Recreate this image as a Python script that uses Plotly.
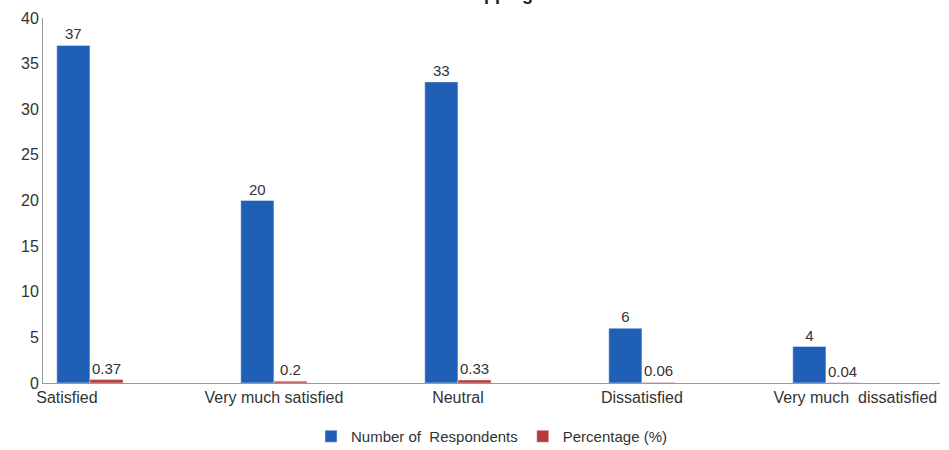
import plotly.graph_objects as go

categories = ["Satisfied", "Very much satisfied", "Neutral", "Dissatisfied", "Very much  dissatisfied"]
respondents = [37, 20, 33, 6, 4]
percentage = [0.37, 0.2, 0.33, 0.06, 0.04]
label_pos = [-0.125, 1, 2, 3.0, 4.16]
y_ticks = [0, 5, 10, 15, 20, 25, 30, 35, 40]

xs = list(range(len(categories)))
font_family = "Liberation Sans Narrow, Liberation Sans, Arial"

fig = go.Figure()
fig.add_trace(go.Bar(
    x=xs, y=respondents, name="Number of  Respondents",
    marker=dict(color="#1f5fb5"),
    text=[str(v) for v in respondents], textposition="outside",
    textfont=dict(size=15, color="#333333", family=font_family),
    cliponaxis=False,
))
fig.add_trace(go.Bar(
    x=xs, y=percentage, name="Percentage (%)",
    marker=dict(color="#b83b3b"),
    text=[str(v) for v in percentage], textposition="outside",
    textfont=dict(size=15, color="#333333", family=font_family),
    cliponaxis=False,
))

fig.add_annotation(text="<b>Shopping</b>", x=0.5, xref="paper", yref="paper",
                   y=1.0, yshift=12, yanchor="bottom", showarrow=False,
                   font=dict(size=18, color="#222222", family=font_family))

fig.update_layout(
    width=949, height=450,
    margin=dict(l=43, r=9, t=18, b=67, autoexpand=False),
    paper_bgcolor="white", plot_bgcolor="white",
    barmode="group", bargap=0.64, bargroupgap=0.0,
    font=dict(family=font_family, size=16, color="#333333"),
    showlegend=True,
    legend=dict(orientation="h", x=0.5, xanchor="center",
                yref="container", y=0.03, yanchor="middle",
                font=dict(size=15, color="#333333")),
    xaxis=dict(range=[-0.255, 4.62], tickmode="array", tickvals=label_pos,
               ticktext=categories, showline=True, linecolor="#9a9a9a",
               ticks="", showgrid=False, zeroline=False,
               tickfont=dict(size=16, color="#333333")),
    yaxis=dict(range=[0, 40], tickmode="array", tickvals=y_ticks,
               showline=True, linecolor="#9a9a9a", showgrid=False,
               zeroline=False, ticks="", ticklen=0,
               tickfont=dict(size=16, color="#333333")),
)

fig.write_html("out.html")
